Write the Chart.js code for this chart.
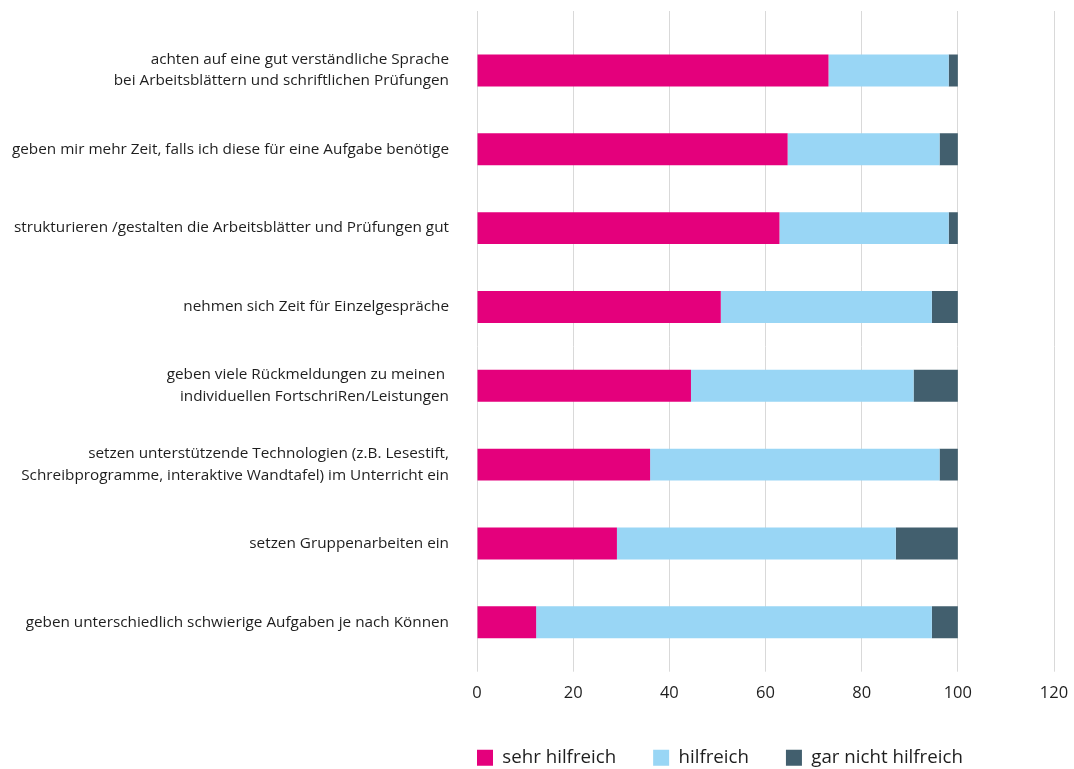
<!DOCTYPE html>
<html>
<head>
<meta charset="utf-8">
<script src="https://cdn.jsdelivr.net/npm/chart.js@4"></script>
<style>
  html, body { margin: 0; padding: 0; background: #fff; }
  #wrap { width: 1074px; height: 769px; position: relative; }
</style>
</head>
<body>
<div id="wrap"><canvas id="mycanvas"></canvas></div>
<script>
// Kategorien (von oben nach unten)
var categories = [
	['achten auf eine gut verständliche Sprache', 'bei Arbeitsblättern und schriftlichen Prüfungen'],
	'geben mir mehr Zeit, falls ich diese für eine Aufgabe benötige',
	'strukturieren /gestalten die Arbeitsblätter und Prüfungen gut',
	'nehmen sich Zeit für Einzelgespräche',
	['geben viele Rückmeldungen zu meinen ', 'individuellen FortschriRen/Leistungen'],
	['setzen unterstützende Technologien (z.B. Lesestift,', 'Schreibprogramme, interaktive Wandtafel) im Unterricht ein'],
	'setzen Gruppenarbeiten ein',
	'geben unterschiedlich schwierige Aufgaben je nach Können'
];

var seriesNames = ['sehr hilfreich', 'hilfreich', 'gar nicht hilfreich'];
var sehrHilfreich = [73.1, 64.6, 62.9, 50.7, 44.5, 36.0, 29.1, 12.3];
var hilfreich = [25.0, 31.6, 35.2, 43.9, 46.3, 60.2, 58.0, 82.3];
var garNichtHilfreich = [1.9, 3.8, 1.9, 5.4, 9.2, 3.8, 12.9, 5.4];

var xTicks = [0, 20, 40, 60, 80, 100, 120];

var colors = ['#e4007c', '#99d6f5', '#425f6e'];
var gridColor = '#d9d9d9';
var textColor = '#1e1e1e';
var fontFamily = '"Open Sans", "Noto Sans", sans-serif';

// Legende unter der Achse, bündig mit dem Diagrammbereich
var legendPlacer = {
	id: 'legendPlacer',
	afterLayout: function(chart) {
		var lg = chart.legend;
		var pad = lg.options.labels.padding;
		var dx = chart.chartArea.left - pad - lg.left;
		lg.left += dx;
		lg.right += dx;
		lg.top = 758 - pad - 9.5;
		lg.bottom = chart.height;
	}
};

var chartdata = {
	labels: categories,
	datasets: [
		{ label: seriesNames[0], data: sehrHilfreich, backgroundColor: colors[0] },
		{ label: seriesNames[1], data: hilfreich, backgroundColor: colors[1] },
		{ label: seriesNames[2], data: garNichtHilfreich, backgroundColor: colors[2] }
	]
};

var ctx = document.getElementById('mycanvas');

var barGraph = new Chart(ctx, {
	type: 'bar',
	data: chartdata,
	plugins: [legendPlacer],
	options: {
		indexAxis: 'y',
		responsive: true,
		maintainAspectRatio: false,
		animation: false,
		datasets: {
			bar: { categoryPercentage: 1, barPercentage: 0.405, borderWidth: 0 }
		},
		layout: { padding: { left: 0, right: 20, top: 11, bottom: 23.5 } },
		plugins: {
			tooltip: { enabled: false },
			legend: {
				position: 'bottom',
				align: 'start',
				maxHeight: 30,
				labels: {
					boxWidth: 16,
					boxHeight: 16,
					padding: 37,
					color: textColor,
					font: { family: fontFamily, size: 18.7 }
				}
			}
		},
		scales: {
			x: {
				stacked: true,
				min: 0,
				max: 120,
				afterBuildTicks: function(scale) {
					scale.ticks = xTicks.map(function(v) { return { value: v }; });
				},
				afterFit: function(scale) { scale.paddingRight = 0; scale.paddingLeft = 0; },
				grid: { color: gridColor, lineWidth: 1, tickLength: 10 },
				border: { display: false },
				ticks: {
					padding: 12,
					color: textColor,
					font: { family: fontFamily, size: 16.5 }
				}
			},
			xTop: {
				type: 'linear',
				position: 'top',
				min: 0,
				max: 120,
				afterBuildTicks: function(scale) {
					scale.ticks = xTicks.map(function(v) { return { value: v }; });
				},
				afterFit: function(scale) { scale.paddingRight = 0; scale.paddingLeft = 0; },
				grid: { color: gridColor, lineWidth: 1, tickLength: 20, drawOnChartArea: false },
				border: { display: false },
				ticks: { display: false }
			},
			y: {
				stacked: true,
				afterFit: function(scale) {
					scale.width = 477;
					scale.paddingTop = 0;
					scale.paddingBottom = 0;
				},
				grid: { display: false, drawTicks: false },
				border: { display: false },
				ticks: {
					padding: 28,
					color: textColor,
					font: { family: fontFamily, size: 15.3, lineHeight: 1.4 }
				}
			}
		}
	}
});
</script>
</body>
</html>
